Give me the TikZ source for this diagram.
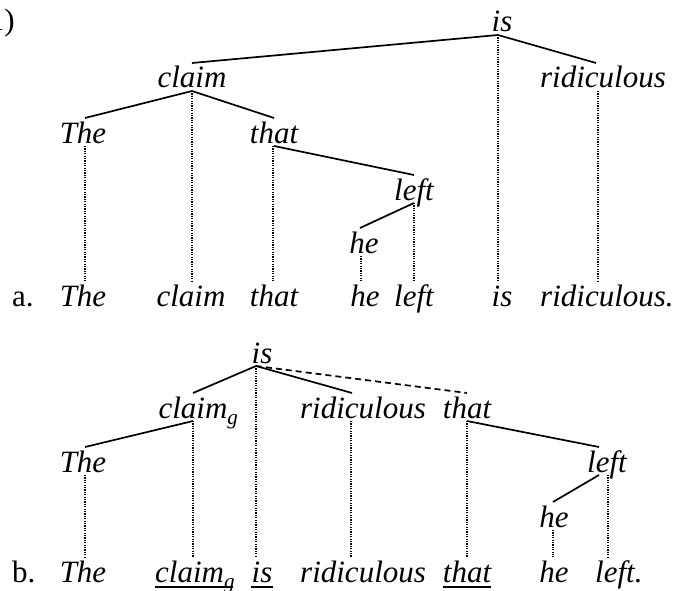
\documentclass[tikz,border=0pt]{standalone}
\usepackage{fontspec}
\setmainfont{Liberation Serif}
\newcommand\wsz{\fontsize{31}{37}\selectfont}
\newcommand\subg{\raisebox{-6pt}{\fontsize{21}{21}\selectfont\itshape g}}
\begin{document}
\begin{tikzpicture}[x=1pt,y=-1pt,
  w/.style={inner sep=0pt, outer ysep=3pt, text height=22pt, text depth=0pt, font=\wsz\itshape, anchor=base},
  lab/.style={inner sep=0pt, font=\wsz, anchor=base west},
  br/.style={line width=1.7pt},
  dot/.style={line width=1.3pt, dash pattern=on 1.2pt off 1.2pt},
  dsh/.style={line width=1.7pt, dash pattern=on 6pt off 4pt},
  ul/.style={line width=1.7pt}]
\useasboundingbox (0,0) rectangle (677,591);
\node[lab, anchor=base east] (num) at (15,31) {(1)};
% ---------- a ----------
\node[w] (isA) at (502,32) {is};
\node[w] (claimA) at (192,88) {claim};
\node[w] (ridA) at (603,88) {ridiculous};
\node[w] (TheA) at (83,143) {The};
\node[w] (thatA) at (274,143) {that};
\node[w] (leftA) at (414,200) {left};
\node[w] (heA) at (364,253) {he};
\node[lab] (la) at (12,306) {a.};
\node[w] (bTheA) at (83,306) {The};
\node[w] (bclaimA) at (191,306) {claim};
\node[w] (bthatA) at (274,306) {that};
\node[w] (bheA) at (365,306) {he};
\node[w] (bleftA) at (414,306) {left};
\node[w] (bisA) at (502,306) {is};
\node[w, anchor=base west] (bridA) at (540,306) {ridiculous.};
\draw[br] ([xshift=-4pt]isA.south) -- (claimA.north);
\draw[br] ([xshift=-4pt]isA.south) -- ([xshift=-7pt]ridA.north);
\draw[br] (claimA.south) -- ([xshift=2pt]TheA.north);
\draw[br] (claimA.south) -- (thatA.north);
\draw[br] (thatA.south) -- (leftA.north);
\draw[br] (leftA.south) -- ([xshift=-4pt]heA.north);
\draw[dot] ([xshift=-4pt]isA.south) -- ([xshift=-4pt]isA.south |- bisA.north);
\draw[dot] (claimA.south) -- (claimA.south |- bclaimA.north);
\draw[dot] ([xshift=-5pt]ridA.south) -- ([xshift=-5pt]ridA.south |- bridA.north);
\draw[dot] ([xshift=2pt]TheA.south) -- ([xshift=2pt]TheA.south |- bTheA.north);
\draw[dot] ([xshift=-1pt]thatA.south) -- ([xshift=-1pt]thatA.south |- bthatA.north);
\draw[dot] (leftA.south) -- (leftA.south |- bleftA.north);
\draw[dot] ([xshift=-3pt]heA.south) -- ([xshift=-3pt]heA.south |- bheA.north);
% ---------- b ----------
\node[w] (isB) at (262,363) {is};
\node[w] (claimB) at (193,418) {claim\rlap{\subg}};
\node[w] (ridB) at (363,418) {ridiculous};
\node[w] (thatB) at (467,418) {that};
\node[w] (TheB) at (83,472) {The};
\node[w] (leftB) at (607,472) {left};
\node[w] (heB) at (554,527) {he};
\node[lab] (lb) at (12,582) {b.};
\node[w] (bTheB) at (83,582) {The};
\node[w, anchor=base west] (bclaimB) at (155,582) {claim\subg};
\node[w] (bisB) at (262,582) {is};
\node[w, anchor=base west] (bridB) at (300,582) {ridiculous};
\node[w] (bthatB) at (467,582) {that};
\node[w] (bheB) at (554,582) {he};
\node[w, anchor=base west] (bleftB) at (595,582) {left.};
\draw[br] ([xshift=-6pt]isB.south) -- (claimB.north);
\draw[br] ([xshift=-6pt]isB.south) -- ([xshift=-11pt]ridB.north);
\draw[dsh] ([xshift=-6pt]isB.south) -- (thatB.north);
\draw[br] (claimB.south) -- ([xshift=2pt]TheB.north);
\draw[br] (thatB.south) -- ([xshift=-8pt]leftB.north);
\draw[br] ([xshift=-8pt]leftB.south) -- ([xshift=-1pt]heB.north);
\draw[dot] ([xshift=-6pt]isB.south) -- ([xshift=-6pt]isB.south |- bisB.north);
\draw[dot] (claimB.south) -- (claimB.south |- bclaimB.north);
\draw[dot] ([xshift=-12pt]ridB.south) -- ([xshift=-12pt]ridB.south |- bridB.north);
\draw[dot] ([xshift=2pt]TheB.south) -- ([xshift=2pt]TheB.south |- bTheB.north);
\draw[dot] (thatB.south) -- (thatB.south |- bthatB.north);
\draw[dot] ([xshift=1pt]leftB.south) -- ([xshift=1pt]leftB.south |- bleftB.north);
\draw[dot] ([xshift=-1pt]heB.south) -- ([xshift=-1pt]heB.south |- bheB.north);
\draw[ul] ([yshift=-5pt]bclaimB.base west) -- ++(78,0);
\draw[ul] ([yshift=-5pt]bisB.base west) -- ([yshift=-5pt]bisB.base east);
\draw[ul] ([yshift=-5pt]bthatB.base west) -- ([yshift=-5pt]bthatB.base east);
\end{tikzpicture}
\end{document}
